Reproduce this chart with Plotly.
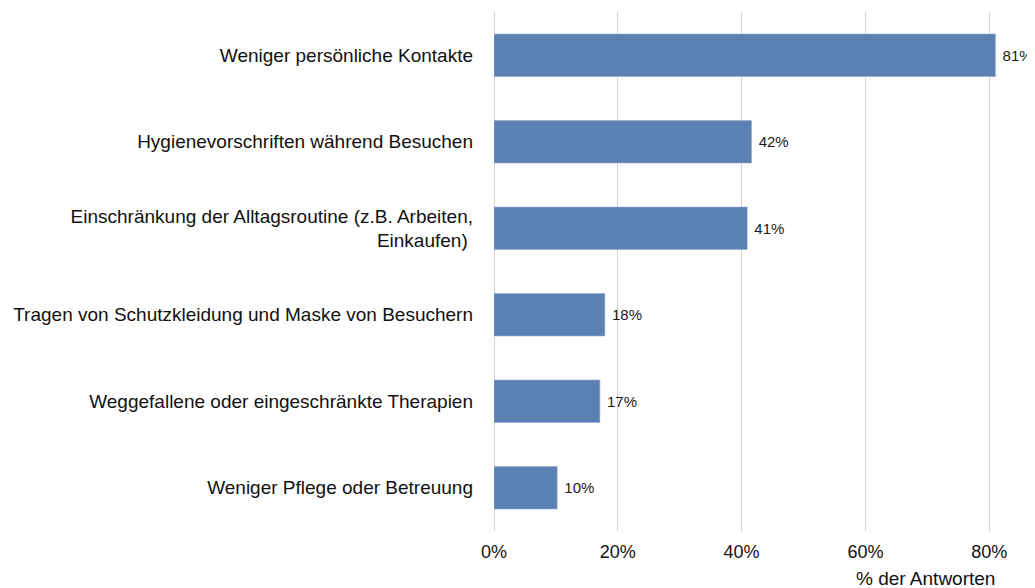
import plotly.graph_objects as go

categories = [
    "Weniger persönliche Kontakte",
    "Hygienevorschriften während Besuchen",
    "Einschränkung der Alltagsroutine (z.B. Arbeiten,<br>Einkaufen)\u00a0",
    "Tragen von Schutzkleidung und Maske von Besuchern",
    "Weggefallene oder eingeschränkte Therapien",
    "Weniger Pflege oder Betreuung",
]
values = [81.0, 41.6, 40.9, 17.9, 17.1, 10.2]
tick_vals = [0, 20, 40, 60, 80]
tick_text = ["0%", "20%", "40%", "60%", "80%"]
axis_title = "% der Antworten"

fig = go.Figure(
    go.Bar(
        y=categories,
        x=values,
        orientation="h",
        marker=dict(color="#5B80B2", line=dict(color="#8FA9CC", width=0.6)),
        width=0.49,
        texttemplate=" %{x:.0f}%",
        textposition="outside",
        textfont=dict(size=15, color="#1a1a1a", family="Liberation Sans, Arial"),
        cliponaxis=False,
        constraintext="none",
    )
)

fig.update_layout(
    width=1027,
    height=580,
    margin=dict(l=486, r=0, t=4, b=57),
    paper_bgcolor="white",
    plot_bgcolor="white",
    font=dict(family="Liberation Sans, Arial", size=18, color="#111111"),
    showlegend=False,
    bargap=0.5,
)
fig.update_xaxes(
    range=[0, 87.4],
    tickvals=tick_vals,
    ticktext=tick_text,
    showgrid=True,
    gridcolor="#d4d4d4",
    gridwidth=1,
    zeroline=True,
    zerolinecolor="#d4d4d4",
    zerolinewidth=1,
    showline=False,
    ticks="",
    ticklabelstandoff=8,
    tickfont=dict(size=18),
)
fig.update_yaxes(
    autorange="reversed",
    showgrid=False,
    showline=False,
    ticks="",
    ticklabelstandoff=20,
    tickfont=dict(size=19),
)
fig.add_annotation(
    text=axis_title,
    xref="paper",
    yref="paper",
    x=0.797,
    y=-0.0906,
    xanchor="center",
    yanchor="middle",
    showarrow=False,
    font=dict(size=19, color="#111111"),
)

fig.write_html("out.html")
